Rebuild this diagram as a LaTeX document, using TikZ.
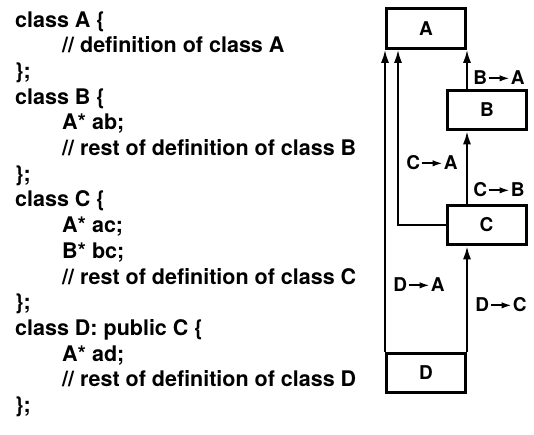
\documentclass[tikz,border=0pt]{standalone}
\usepackage{fontspec}
\setmainfont{TeX Gyre Heros}
\usetikzlibrary{arrows.meta}
\newcommand{\lblarrow}{\tikz[baseline=-6.6pt]\draw[line width=1.7pt,-{Latex[length=10pt,width=6.5pt]}] (0pt,0pt) -- (21pt,0pt);}
\tikzset{
  box/.style={draw, line width=3pt, minimum width=79pt, minimum height=39.5pt, inner sep=0pt, font=\bfseries\fontsize{19}{21}\selectfont},
  conn/.style={line width=2pt, -{Latex[length=13pt,width=8pt]}},
  elabel/.style={inner sep=0pt, font=\bfseries\fontsize{19}{21}\selectfont},
  code/.style={anchor=base west, inner sep=0pt, font=\bfseries\fontsize{21.5}{26}\selectfont}
}
\begin{document}
\begin{tikzpicture}[x=1pt,y=-1pt]
\useasboundingbox (0,0) rectangle (534,434);
% code text
\def\lx{15}\def\ix{62}
\node[code] (l0) at (\lx,27) {class A \{};
\node[code] (l1) at (\ix,52.7) {// definition of class A};
\node[code] (l2) at (\lx,78.4) {\};};
\node[code] (l3) at (\lx,104.1) {class B \{};
\node[code] (l4) at (\ix,129.8) {A* ab;};
\node[code] (l5) at (\ix,155.5) {// rest of definition of class B};
\node[code] (l6) at (\lx,181.2) {\};};
\node[code] (l7) at (\lx,206.9) {class C \{};
\node[code] (l8) at (\ix,232.6) {A* ac;};
\node[code] (l9) at (\ix,258.3) {B* bc;};
\node[code] (l10) at (\ix,284) {// rest of definition of class C};
\node[code] (l11) at (\lx,309.7) {\};};
\node[code] (l12) at (\lx,335.4) {class D: public C \{};
\node[code] (l13) at (\ix,361.1) {A* ad;};
\node[code] (l14) at (\ix,386.8) {// rest of definition of class D};
\node[code] (l15) at (\lx,412.5) {\};};
% boxes
\node[box] (A) at (426,28.5) {A};
\node[box] (B) at (487,110) {B};
\node[box] (C) at (486.5,225) {C};
\node[box] (D) at (426,373) {D};
\coordinate (ca) at ([xshift=13pt]A.south west);
% connectors
\draw[conn] (B.north -| A.east) -- (A.south east);
\draw[conn] (C.north -| A.east) -- (B.south -| A.east);
\draw[conn] (D.north east) -- (C.south -| D.east);
\draw[conn] (C.west) -| (ca);
\draw[conn] (D.north west) -- (A.south west);
% labels
\node[elabel] (lba) at (499,78) {B\kern0.5pt\lblarrow\kern0.5pt A};
\node[elabel] (lca) at (432,163) {C\kern0.5pt\lblarrow\kern0.5pt A};
\node[elabel] (lcb) at (499,190) {C\kern0.5pt\lblarrow\kern0.5pt B};
\node[elabel] (lda) at (419,285) {D\kern0.5pt\lblarrow\kern0.5pt A};
\node[elabel] (ldc) at (501,305) {D\kern0.5pt\lblarrow\kern0.5pt C};
\end{tikzpicture}
\end{document}
